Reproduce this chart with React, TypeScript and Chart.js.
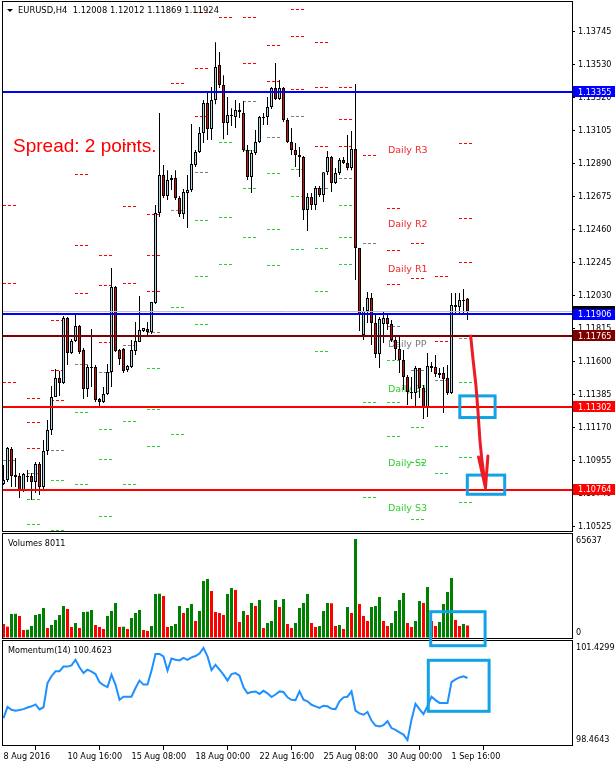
import { useEffect, useRef } from "react";
import { Chart, registerables } from "chart.js";

Chart.register(...registerables);

// ---------------- data ----------------
const SYMBOL = "EURUSD,H4";
const BARS_PER_DAY = 6;

const xTickBars = [0, 16, 32, 48, 64, 80, 96, 112];
const xTickLabels = ["8 Aug 2016", "10 Aug 16:00", "15 Aug 08:00", "18 Aug 00:00", "22 Aug 16:00", "25 Aug 08:00", "30 Aug 00:00", "1 Sep 16:00"];

const priceTicks = [1.13745, 1.1353, 1.1332, 1.13105, 1.1289, 1.12675, 1.1246, 1.12245, 1.1203, 1.11815, 1.116, 1.11385, 1.1117, 1.10955, 1.1074, 1.10525];

const opens = [
  1.108, 1.10826, 1.11028, 1.10858, 1.10852, 1.10761, 1.10852, 1.10852, 1.10813, 1.1093,
  1.1078, 1.11015, 1.11152, 1.11367, 1.1149, 1.11458, 1.11881, 1.11653, 1.11731, 1.11829,
  1.11673, 1.11419, 1.11562, 1.11562, 1.11354, 1.11334, 1.11386, 1.11529, 1.12083, 1.11673,
  1.11679, 1.11542, 1.11562, 1.11666, 1.11725, 1.11797, 1.1181, 1.1179, 1.11979, 1.12565,
  1.12813, 1.12676, 1.1278, 1.12793, 1.12663, 1.12559, 1.12696, 1.12715, 1.12878, 1.12963,
  1.13087, 1.13282, 1.13113, 1.13302, 1.1353, 1.13399, 1.13152, 1.13204, 1.13191, 1.13236,
  1.13217, 1.12976, 1.128, 1.12956, 1.13028, 1.13191, 1.13191, 1.13256, 1.1338, 1.13308,
  1.1338, 1.13171, 1.13028, 1.12976, 1.12943, 1.1293, 1.12585, 1.1267, 1.12617, 1.12728,
  1.12683, 1.12832, 1.1293, 1.12761, 1.12826, 1.12911, 1.12891, 1.12859, 1.12982, 1.12337,
  1.11771, 1.11927, 1.12012, 1.11849, 1.11647, 1.11842, 1.11881, 1.11842, 1.11738, 1.11679,
  1.11608, 1.11497, 1.11399, 1.11393, 1.11556, 1.11425, 1.11301, 1.11569, 1.11562, 1.11523,
  1.11523, 1.1149, 1.11393, 1.11953, 1.11953, 1.11999, 1.12008,
];
const highs = [
  1.10924, 1.11041, 1.11041, 1.10969, 1.10871, 1.10871, 1.10891, 1.10871, 1.10943, 1.10943,
  1.11086, 1.11217, 1.11438, 1.11549, 1.11536, 1.11894, 1.11888, 1.11744, 1.11901, 1.11836,
  1.11686, 1.11575, 1.1181, 1.11575, 1.1136, 1.11432, 1.11582, 1.12207, 1.1209, 1.11679,
  1.11686, 1.11575, 1.11738, 1.11855, 1.12025, 1.11816, 1.11855, 1.11986, 1.12617, 1.13217,
  1.12878, 1.12845, 1.12813, 1.12845, 1.12676, 1.12722, 1.12813, 1.13145, 1.12976, 1.13126,
  1.13302, 1.1336, 1.13386, 1.13679, 1.13614, 1.13464, 1.13321, 1.13249, 1.13302, 1.13282,
  1.13295, 1.13008, 1.12976, 1.13106, 1.13197, 1.13217, 1.13321, 1.13386, 1.13543, 1.13432,
  1.13386, 1.13184, 1.13119, 1.13021, 1.12995, 1.12937, 1.12696, 1.12696, 1.12741, 1.12741,
  1.12832, 1.12969, 1.12937, 1.12859, 1.12924, 1.1293, 1.13074, 1.131, 1.13406, 1.12337,
  1.11953, 1.12051, 1.12044, 1.11901, 1.11888, 1.1192, 1.11914, 1.11868, 1.11771, 1.11757,
  1.11673, 1.1151, 1.11497, 1.11569, 1.11556, 1.11445, 1.11653, 1.11595, 1.1164, 1.11556,
  1.11562, 1.11575, 1.12044, 1.12044, 1.12044, 1.1207, 1.12012,
];
const lows = [
  1.10793, 1.10813, 1.1078, 1.1078, 1.10709, 1.10748, 1.10813, 1.10696, 1.10741, 1.10728,
  1.10761, 1.10989, 1.11119, 1.11367, 1.11373, 1.11451, 1.11575, 1.11647, 1.11725, 1.11647,
  1.11354, 1.11367, 1.11432, 1.11334, 1.11301, 1.11328, 1.1138, 1.11432, 1.1166, 1.11575,
  1.11523, 1.11529, 1.11556, 1.1164, 1.11725, 1.1179, 1.11757, 1.11777, 1.11972, 1.12539,
  1.12663, 1.1265, 1.12715, 1.1265, 1.12539, 1.12526, 1.12468, 1.12702, 1.12865, 1.12956,
  1.13021, 1.13041, 1.13041, 1.13275, 1.1338, 1.13047, 1.13074, 1.13132, 1.13119, 1.13184,
  1.12963, 1.1278, 1.12696, 1.12943, 1.13021, 1.13139, 1.13139, 1.13243, 1.13302, 1.13302,
  1.13158, 1.13021, 1.12943, 1.12865, 1.128, 1.1252, 1.12448, 1.12585, 1.12585, 1.1267,
  1.12637, 1.12813, 1.12702, 1.12754, 1.12813, 1.12885, 1.12845, 1.12845, 1.12129, 1.11797,
  1.11738, 1.11849, 1.11705, 1.11621, 1.11556, 1.11718, 1.11803, 1.11725, 1.11608, 1.11523,
  1.11412, 1.11314, 1.11354, 1.11301, 1.1136, 1.11223, 1.11236, 1.11529, 1.11497, 1.1149,
  1.11262, 1.1138, 1.11386, 1.11901, 1.11914, 1.11901, 1.11869,
];
const closes = [
  1.10826, 1.11034, 1.10852, 1.10845, 1.10761, 1.10865, 1.10845, 1.10813, 1.1093, 1.1078,
  1.11015, 1.11152, 1.11367, 1.1149, 1.11458, 1.11881, 1.11653, 1.11731, 1.11829, 1.1166,
  1.11419, 1.11562, 1.11556, 1.11347, 1.11334, 1.11386, 1.11529, 1.12083, 1.11666, 1.11614,
  1.11536, 1.11569, 1.11673, 1.11731, 1.11803, 1.11816, 1.1179, 1.11986, 1.12565, 1.12813,
  1.12676, 1.1278, 1.12793, 1.12663, 1.12559, 1.12702, 1.12715, 1.12885, 1.12963, 1.13087,
  1.13282, 1.13113, 1.13302, 1.13517, 1.13399, 1.13152, 1.13204, 1.13197, 1.13236, 1.13223,
  1.12976, 1.128, 1.12956, 1.13028, 1.13191, 1.13184, 1.13256, 1.1338, 1.13308, 1.1338,
  1.13171, 1.13028, 1.12976, 1.12943, 1.1293, 1.12585, 1.1267, 1.12617, 1.12728, 1.12683,
  1.12832, 1.1293, 1.12761, 1.12826, 1.12911, 1.12891, 1.12859, 1.12982, 1.12337, 1.11907,
  1.11927, 1.12012, 1.11849, 1.11647, 1.11875, 1.11881, 1.11842, 1.11738, 1.11679, 1.11608,
  1.11497, 1.11399, 1.11393, 1.11556, 1.11425, 1.11301, 1.11569, 1.11556, 1.11516, 1.1151,
  1.11484, 1.11393, 1.11966, 1.11966, 1.11999, 1.11992, 1.11924,
];

const volumes = [
  8996, 7220, 15660, 15800, 14328, 4998, 5200, 7664, 14994, 15660,
  19659, 6331, 8330, 11662, 14994, 20992, 18992, 6997, 9663, 6331,
  16993, 17200, 18326, 8330, 6997, 5664, 14328, 17660, 22991, 6997,
  7200, 5664, 12995, 16327, 18326, 4998, 4332, 7664, 28988, 29200,
  27656, 6997, 7664, 8996, 20992, 16327, 19659, 22324, 10996, 17660,
  37652, 38984, 30988, 16993, 16327, 14994, 28988, 32987, 31654, 10329,
  17660, 14994, 22991, 20992, 24990, 6331, 9663, 10996, 24990, 20325,
  25656, 8996, 6331, 9663, 19659, 22991, 28988, 9663, 6997, 7664,
  17660, 22991, 22800, 7664, 8330, 5664, 20325, 16327, 65637, 22324,
  14328, 10996, 20325, 20992, 26989, 10996, 7664, 9663, 17660, 24990,
  29655, 9663, 6997, 10996, 24324, 22991, 33653, 10996, 7664, 10329,
  22324, 30321, 39651, 11662, 7664, 8996, 8011,
];

const momentum = [
  99.17, 99.53, 99.44, 99.41, 99.43, 99.46, 99.51, 99.55, 99.61, 99.45,
  99.52, 100.3, 100.52, 100.68, 100.68, 100.83, 100.83, 100.87, 101.05, 100.81,
  100.62, 100.73, 100.67, 100.59, 100.33, 100.23, 100.17, 100.57, 100.25, 99.76,
  99.86, 99.86, 99.86, 100.14, 100.38, 100.25, 100.25, 100.7, 101.24, 101.24,
  101.16, 100.7, 101.09, 101.05, 101.03, 101.11, 101.05, 101.13, 101.17, 101.25,
  101.43, 101.16, 100.72, 100.89, 100.73, 100.57, 100.38, 100.59, 100.62, 100.54,
  100.16, 99.97, 100.01, 100.03, 99.95, 100.05, 99.97, 99.85, 99.93, 100.03,
  100.01, 99.84, 99.76, 99.75, 100.03, 99.76, 99.71, 99.6, 99.55, 99.5,
  99.57, 99.55, 99.47, 99.46, 99.71, 99.84, 99.86, 100.03, 99.41, 99.32,
  99.28, 99.37, 99.09, 98.93, 98.9, 98.94, 99.07, 98.85, 98.79, 98.71,
  98.64, 98.46, 99.12, 99.63, 99.46, 99.3, 99.55, 99.86, 99.75, 99.66,
  99.66, 99.66, 100.33, 100.42, 100.48, 100.52, 100.4623,
];

// daily pivot levels, one value per trading day (null = off the visible range)
const pivotR3 = [1.12617, 1.1136, 1.11868, 1.12819, 1.12292, 1.13015, 1.12559, null, 1.13875, null, null, null, 1.13894, 1.13679, 1.13386, null, 1.12598, 1.1237, 1.12155, 1.13021];
const pivotR2 = [1.12109, 1.11204, 1.11542, 1.12357, 1.12096, 1.12611, 1.12292, null, 1.1351, null, 1.13842, 1.1366, 1.13719, 1.13386, 1.13178, null, 1.12324, 1.12142, 1.11907, 1.12533];
const pivotR1 = [1.11464, 1.11034, 1.11347, 1.12044, 1.11725, 1.12109, 1.12057, 1.13412, 1.13197, 1.13842, 1.13543, 1.13425, 1.13373, 1.13002, 1.13002, 1.12943, 1.12103, 1.11771, 1.11731, 1.12246];
const pivotPP = [1.10956, 1.10871, 1.11021, 1.11582, 1.11529, 1.11705, 1.1179, 1.12585, 1.12832, 1.13354, 1.13295, 1.1306, 1.13197, 1.12728, 1.12793, 1.1237, 1.11829, 1.11542, 1.11477, 1.11754];
const pivotS1 = [null, 1.10702, 1.10826, 1.11269, 1.11158, 1.1121, 1.11556, 1.11953, 1.1252, 1.13028, 1.12976, 1.12826, 1.12852, 1.12337, 1.12617, 1.11334, 1.11608, 1.11171, 1.11301, 1.11464];
const pivotS2 = [null, 1.10539, 1.10503, 1.108, 1.10963, 1.108, 1.11288, 1.11126, 1.12155, 1.12539, 1.12728, 1.12461, 1.12676, 1.12057, 1.12409, 1.10715, 1.11334, 1.10943, 1.11047, 1.10976];
const pivotS3 = [null, null, null, null, 1.10591, null, 1.11047, 1.10494, 1.11842, 1.12233, 1.12409, 1.12227, 1.12331, 1.11666, 1.12233, null, 1.11113, 1.10572, 1.10871, 1.10683];

const hLevelPrices = [1.13355, 1.11906, 1.11765, 1.11302, 1.10764];
const volumeAxisLabels = [65637, 0];
const momentumAxisLabels = [101.4299, 98.4643];
const momentumPeriod = 14;
const spreadPoints = 2;

// ---------------- styles / layout ----------------
const W = 615;
const H = 767;
const UI_FONT = '"DejaVu Sans Condensed", "DejaVu Sans", sans-serif';
const PLOT = { left: 3, right: 572, top: 2, bottom: 746 };
const MAIN = { top: 2, bottom: 531 };
const VOL = { top: 534, bottom: 638 };
const MOM = { top: 641, bottom: 745 };
const BULL = "#add8e6";
const BEAR = "#d01010";
const hLevelColors = ["#0000ff", "#0000ff", "#800000", "#ff0000", "#ff0000"];
const PIVOT_LABEL_BAR = 96.1;
const ANNOT_BLUE = "#12a2e6";
const ANNOT_RED = "#ed1c24";

const pivotRows = [
  { label: "Daily R3", values: pivotR3, line: "#ff0000", text: "#f0282d" },
  { label: "Daily R2", values: pivotR2, line: "#ff0000", text: "#f0282d" },
  { label: "Daily R1", values: pivotR1, line: "#ff0000", text: "#f0282d" },
  { label: "Daily PP", values: pivotPP, line: "#808080", text: "#7a7a7a" },
  { label: "Daily S1", values: pivotS1, line: "#32cd32", text: "#32cd32" },
  { label: "Daily S2", values: pivotS2, line: "#32cd32", text: "#32cd32" },
  { label: "Daily S3", values: pivotS3, line: "#32cd32", text: "#32cd32" },
];

// hand-drawn highlights (data coordinates of the axis they belong to)
const highlightBoxes = [
  { axis: "y", x0: 114.08, x1: 122.9, y0: 1.11374, y1: 1.11233 },
  { axis: "y", x0: 115.95, x1: 125.3, y0: 1.10858, y1: 1.10733 },
  { axis: "yv", x0: 106.8, x1: 120.4, y0: 17192, y1: -5464 },
  { axis: "ym", x0: 106.2, x1: 121.4, y0: 101.0334, y1: 99.3895 },
];
const arrowPath = [
  [116.8, 1.11764], [117.4, 1.11608], [118.1, 1.11445], [118.6, 1.11282],
  [119.1, 1.11086], [119.6, 1.10956], [120.1, 1.10858], [120.5, 1.10774],
];
const arrowBarbs = [[118.75, 1.10976], [121.1, 1.10982]];

function rangeFor(v1: number, y1: number, v2: number, y2: number) {
  const k = (v1 - v2) / (y2 - y1);
  return { max: v1 + (y1 - PLOT.top) * k, min: v1 - (PLOT.bottom - y1) * k };
}

const mt4Plugin: any = {
  id: "mt4",
  beforeDatasetsDraw(chart: any) {
    const { ctx } = chart;
    const xs = chart.scales.x;
    const ys = chart.scales.y;
    ctx.save();
    ctx.beginPath();
    ctx.rect(PLOT.left, MAIN.top, PLOT.right - PLOT.left, MAIN.bottom - MAIN.top);
    ctx.clip();
    ctx.lineWidth = 1;
    ctx.setLineDash([3, 2]);
    for (const row of pivotRows) {
      ctx.strokeStyle = row.line;
      row.values.forEach((v: number | null, d: number) => {
        if (v === null) return;
        const py = Math.round(ys.getPixelForValue(v)) + 0.5;
        const x0 = Math.round(xs.getPixelForValue(d * BARS_PER_DAY - 0.125));
        const x1 = Math.round(xs.getPixelForValue(d * BARS_PER_DAY + 3.375));
        ctx.beginPath();
        ctx.moveTo(x0, py);
        ctx.lineTo(x1, py);
        ctx.stroke();
      });
    }
    ctx.setLineDash([]);
    ctx.font = '9.5px "DejaVu Sans", sans-serif';
    ctx.textBaseline = "middle";
    ctx.textAlign = "left";
    const lx = xs.getPixelForValue(PIVOT_LABEL_BAR);
    for (const row of pivotRows) {
      const v = row.values[row.values.length - 1];
      if (v === null) continue;
      ctx.fillStyle = row.text;
      ctx.fillText(row.label, lx, ys.getPixelForValue(v) + 7);
    }
    ctx.restore();
  },
  afterDatasetsDraw(chart: any) {
    const { ctx } = chart;
    const ys = chart.scales.y;
    ctx.save();
    ctx.beginPath();
    ctx.rect(PLOT.left, MAIN.top, PLOT.right - PLOT.left, MAIN.bottom - MAIN.top);
    ctx.clip();
    const bid = closes[closes.length - 1];
    ctx.strokeStyle = "#c0c0c0";
    ctx.lineWidth = 1;
    let py = Math.round(ys.getPixelForValue(bid)) + 0.5;
    ctx.beginPath();
    ctx.moveTo(PLOT.left, py);
    ctx.lineTo(PLOT.right, py);
    ctx.stroke();
    ctx.lineWidth = 2;
    hLevelPrices.forEach((v, k) => {
      ctx.strokeStyle = hLevelColors[k];
      py = Math.round(ys.getPixelForValue(v));
      ctx.beginPath();
      ctx.moveTo(PLOT.left, py);
      ctx.lineTo(PLOT.right, py);
      ctx.stroke();
    });
    ctx.restore();
  },
  afterDraw(chart: any) {
    const { ctx } = chart;
    const xs = chart.scales.x;
    const ys = chart.scales.y;
    const yv = chart.scales.yv;
    const ym = chart.scales.ym;
    ctx.save();
    // panel frames
    ctx.strokeStyle = "#000";
    ctx.lineWidth = 1;
    ctx.strokeRect(PLOT.left - 0.5, MAIN.top - 0.5, PLOT.right - PLOT.left + 1, MAIN.bottom - MAIN.top + 1);
    ctx.strokeRect(PLOT.left - 0.5, VOL.top - 0.5, PLOT.right - PLOT.left + 1, VOL.bottom - VOL.top + 1);
    ctx.strokeRect(PLOT.left - 0.5, MOM.top - 0.5, PLOT.right - PLOT.left + 1, MOM.bottom - MOM.top + 1);

    // price tags on the right axis (current bid first, mostly covered)
    ctx.font = `9px ${UI_FONT}`;
    ctx.textBaseline = "middle";
    ctx.textAlign = "left";
    const bidY = ys.getPixelForValue(closes[closes.length - 1]);
    ctx.fillStyle = "#000000";
    ctx.fillRect(PLOT.right + 1, Math.round(bidY - 5.5), W - PLOT.right - 1, 11);
    hLevelPrices.forEach((v, k) => {
      const py = ys.getPixelForValue(v);
      ctx.fillStyle = hLevelColors[k];
      ctx.fillRect(PLOT.right + 1, Math.round(py - 5.5), W - PLOT.right - 1, 11);
      ctx.fillStyle = "#ffffff";
      ctx.fillText(v.toFixed(5), PLOT.right + 6, py + 0.5);
    });

    // sub-window scale labels
    ctx.fillStyle = "#000";
    for (const v of volumeAxisLabels) {
      let py = yv.getPixelForValue(v);
      py = Math.min(Math.max(py, VOL.top + 7), VOL.bottom - 5);
      ctx.fillText(String(v), PLOT.right + 4, py);
    }
    for (const v of momentumAxisLabels) {
      let py = ym.getPixelForValue(v);
      py = Math.min(Math.max(py, MOM.top + 7), MOM.bottom - 5);
      ctx.fillText(v.toFixed(4), PLOT.right + 4, py);
    }

    // titles
    const last = closes.length - 1;
    ctx.beginPath();
    ctx.moveTo(7, 9);
    ctx.lineTo(13, 9);
    ctx.lineTo(10, 12);
    ctx.closePath();
    ctx.fill();
    ctx.font = `9.3px ${UI_FONT}`;
    ctx.fillText(
      `${SYMBOL}  ${opens[last].toFixed(5)} ${highs[last].toFixed(5)} ${lows[last].toFixed(5)} ${closes[last].toFixed(5)}`,
      18,
      11
    );
    ctx.font = `9px ${UI_FONT}`;
    ctx.fillText(`Volumes ${volumes[last]}`, 8, VOL.top + 10);
    ctx.fillText(`Momentum(${momentumPeriod}) ${momentum[last].toFixed(4)}`, 8, MOM.top + 10);

    ctx.fillStyle = "#ff0000";
    ctx.font = '19px "Liberation Sans", Arial, sans-serif';
    ctx.textBaseline = "alphabetic";
    ctx.fillText(`Spread: ${spreadPoints} points.`, 13, 152);

    // hand-drawn highlights
    ctx.strokeStyle = ANNOT_BLUE;
    ctx.lineWidth = 3;
    for (const b of highlightBoxes) {
      const sc = chart.scales[b.axis];
      const x0 = xs.getPixelForValue(b.x0);
      const x1 = xs.getPixelForValue(b.x1);
      const y0 = sc.getPixelForValue(b.y0);
      const y1 = sc.getPixelForValue(b.y1);
      ctx.strokeRect(x0, y0, x1 - x0, y1 - y0);
    }
    ctx.strokeStyle = ANNOT_RED;
    ctx.lineWidth = 3;
    ctx.lineJoin = "round";
    ctx.lineCap = "round";
    ctx.beginPath();
    arrowPath.forEach(([bx, p], k) => {
      const px = xs.getPixelForValue(bx);
      const pyy = ys.getPixelForValue(p);
      if (k === 0) ctx.moveTo(px, pyy);
      else ctx.lineTo(px, pyy);
    });
    const tip = arrowPath[arrowPath.length - 1];
    const tx = xs.getPixelForValue(tip[0]);
    const ty = ys.getPixelForValue(tip[1]);
    for (const [bx, p] of arrowBarbs) {
      ctx.moveTo(xs.getPixelForValue(bx), ys.getPixelForValue(p));
      ctx.lineTo(tx, ty);
    }
    ctx.stroke();
    ctx.restore();
  },
};

export default function App() {
  const ref = useRef<HTMLCanvasElement>(null);

  useEffect(() => {
    const canvas = ref.current;
    if (!canvas) return;
    const idx = opens.map((_, i) => i);
    const priceRange = rangeFor(priceTicks[0], 32, priceTicks[priceTicks.length - 1], 526.2);
    const volRange = rangeFor(volumeAxisLabels[0], 539, 0, 637.5);
    const momRange = rangeFor(momentumAxisLabels[0], 648, momentumAxisLabels[1], 740);
    const font = { family: UI_FONT, size: 9 };

    const chart = new Chart(canvas, {
      type: "bar",
      data: {
        datasets: [
          {
            type: "bar",
            data: idx.map((i) => ({ x: i, y: [lows[i], highs[i]] })),
            yAxisID: "y",
            backgroundColor: "#000000",
            borderWidth: 0,
            barThickness: 1,
            grouped: false,
            inflateAmount: 0,
            order: 3,
          } as any,
          {
            type: "bar",
            data: idx.map((i) => ({ x: i, y: [opens[i], closes[i]] })),
            yAxisID: "y",
            backgroundColor: idx.map((i) => (closes[i] >= opens[i] ? BULL : BEAR)),
            borderColor: "#000000",
            borderWidth: 1,
            borderSkipped: false,
            barThickness: 3,
            grouped: false,
            inflateAmount: 0,
            order: 2,
          } as any,
          {
            type: "bar",
            data: idx.map((i) => ({ x: i, y: [0, volumes[i]] })),
            yAxisID: "yv",
            backgroundColor: idx.map((i) => (i > 0 && volumes[i] > volumes[i - 1] ? "#008000" : "#ff0000")),
            borderWidth: 0,
            barThickness: 3,
            grouped: false,
            inflateAmount: 0,
            order: 2,
          } as any,
          {
            type: "line",
            data: idx.map((i) => ({ x: i, y: momentum[i] })),
            yAxisID: "ym",
            borderColor: "#1e90ff",
            borderWidth: 2,
            pointRadius: 0,
            tension: 0,
            fill: false,
            order: 1,
          } as any,
        ],
      },
      options: {
        responsive: false,
        animation: false,
        devicePixelRatio: 1,
        events: [],
        layout: { padding: { left: PLOT.left, top: PLOT.top, right: 0, bottom: 0 } },
        plugins: { legend: { display: false }, tooltip: { enabled: false } },
        scales: {
          x: {
            type: "linear",
            position: "bottom",
            offset: false,
            min: -0.125,
            max: -0.125 + (PLOT.right - PLOT.left) / 4,
            afterBuildTicks: (s: any) => {
              s.ticks = xTickBars.map((v) => ({ value: v }));
            },
            afterFit: (s: any) => {
              s.height = H - PLOT.bottom;
              s.paddingLeft = 0;
              s.paddingRight = 0;
            },
            ticks: {
              autoSkip: false,
              maxRotation: 0,
              minRotation: 0,
              align: "start",
              padding: 1,
              color: "#000",
              font,
              callback: (v: any) => {
                const k = xTickBars.indexOf(Number(v));
                return k >= 0 ? xTickLabels[k] : "";
              },
            },
            grid: { drawOnChartArea: false, drawTicks: true, tickLength: 4, color: "#000" },
            border: { display: false },
          },
          y: {
            type: "linear",
            position: "right",
            min: priceRange.min,
            max: priceRange.max,
            afterBuildTicks: (s: any) => {
              s.ticks = priceTicks.map((v) => ({ value: v }));
            },
            afterFit: (s: any) => {
              s.width = W - PLOT.right;
              s.paddingTop = 0;
              s.paddingBottom = 0;
            },
            ticks: {
              autoSkip: false,
              padding: 3,
              color: "#000",
              font,
              callback: (v: any) => Number(v).toFixed(5),
            },
            grid: { drawOnChartArea: false, drawTicks: true, tickLength: 3, color: "#000" },
            border: { display: false },
          },
          yv: { type: "linear", display: false, min: volRange.min, max: volRange.max },
          ym: { type: "linear", display: false, min: momRange.min, max: momRange.max },
        },
      } as any,
      plugins: [mt4Plugin],
    });
    return () => chart.destroy();
  }, []);

  return (
    <div style={{ position: "absolute", left: 0, top: 0, width: W, height: H, background: "#ffffff" }}>
      <canvas ref={ref} width={W} height={H} style={{ display: "block", width: W, height: H }} />
    </div>
  );
}
